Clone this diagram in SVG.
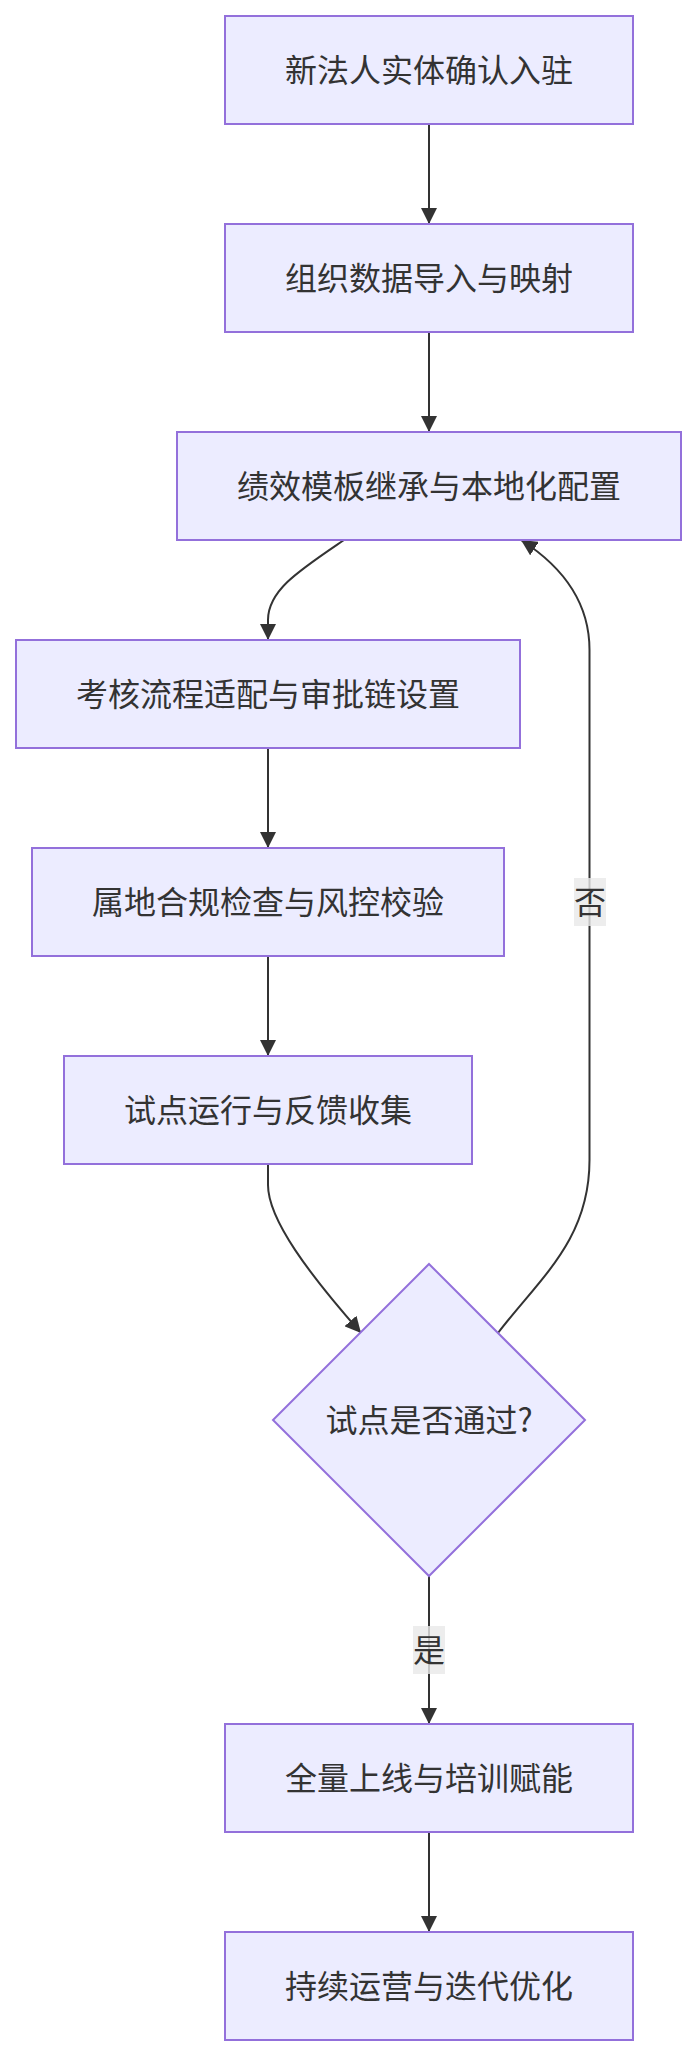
<svg xmlns="http://www.w3.org/2000/svg" width="697" height="2055" viewBox="0 0 697 2055">
<style>
.node rect, .node polygon { fill: #ECECFF; stroke: #9370DB; stroke-width: 2; }
.node text, .lbl text { font-family: "Noto Sans CJK SC", "Noto Sans", "Liberation Sans", sans-serif; font-size: 32px; fill: #333333; text-anchor: middle; }
.edge { fill: none; stroke: #333333; stroke-width: 2; }
.lbl rect { fill: #E8E8E8; fill-opacity: 0.8; }
</style>
<defs>
<marker id="arrow" viewBox="0 0 10 10" refX="10" refY="5" markerUnits="userSpaceOnUse" markerWidth="16" markerHeight="16" orient="auto">
<path d="M0,0 L10,5 L0,10 z" fill="#333333"/>
</marker>
</defs>
<rect width="697" height="2055" fill="#FFFFFF"/>
<g id="connectors">
<path class="edge" d="M429,124 L429,224" marker-end="url(#arrow)"/>
<path class="edge" d="M429,332 L429,432" marker-end="url(#arrow)"/>
<path class="edge" d="M344,540 C300,570 268,590 268,620 L268,640" marker-end="url(#arrow)"/>
<path class="edge" d="M268,748 L268,848" marker-end="url(#arrow)"/>
<path class="edge" d="M268,956 L268,1056" marker-end="url(#arrow)"/>
<path class="edge" d="M268,1164 L268,1185 C268,1220 310,1275 361,1333" marker-end="url(#arrow)"/>
<path class="edge" d="M498,1333 C540,1278 589.5,1240 589.5,1160 L589.5,650 C589.5,600 560,565 521,540" marker-end="url(#arrow)"/>
<path class="edge" d="M429,1576 L429,1724" marker-end="url(#arrow)"/>
<path class="edge" d="M429,1832 L429,1932" marker-end="url(#arrow)"/>
<g class="lbl"><rect x="574" y="878" width="32" height="48"/><text x="590" y="914">否</text></g>
<g class="lbl"><rect x="413" y="1626" width="32" height="48"/><text x="429" y="1662">是</text></g>
</g>
<g id="n1" class="node"><rect x="225" y="16" width="408" height="108"/><text x="429" y="82">新法人实体确认入驻</text></g>
<g id="n2" class="node"><rect x="225" y="224" width="408" height="108"/><text x="429" y="290">组织数据导入与映射</text></g>
<g id="n3" class="node"><rect x="177" y="432" width="504" height="108"/><text x="429" y="498">绩效模板继承与本地化配置</text></g>
<g id="n4" class="node"><rect x="16" y="640" width="504" height="108"/><text x="268" y="706">考核流程适配与审批链设置</text></g>
<g id="n5" class="node"><rect x="32" y="848" width="472" height="108"/><text x="268" y="914">属地合规检查与风控校验</text></g>
<g id="n6" class="node"><rect x="64" y="1056" width="408" height="108"/><text x="268" y="1122">试点运行与反馈收集</text></g>
<g id="n7" class="node"><polygon points="429,1264 585,1420 429,1576 273,1420"/><text x="429" y="1432">试点是否通过?</text></g>
<g id="n8" class="node"><rect x="225" y="1724" width="408" height="108"/><text x="429" y="1790">全量上线与培训赋能</text></g>
<g id="n9" class="node"><rect x="225" y="1932" width="408" height="108"/><text x="429" y="1998">持续运营与迭代优化</text></g>
</svg>
